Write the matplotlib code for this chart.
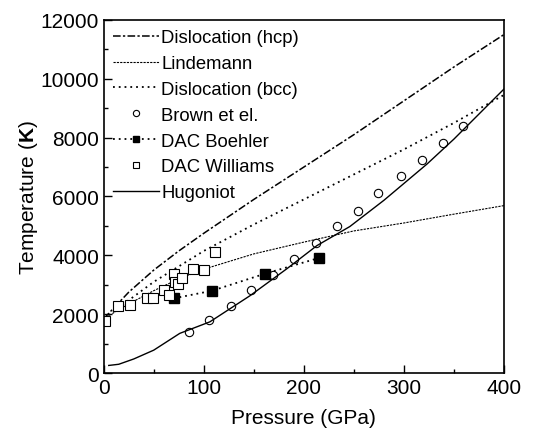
import matplotlib
matplotlib.use('Agg')
import matplotlib.pyplot as plt
from matplotlib.ticker import MultipleLocator

plt.rcParams['font.family'] = ['Liberation Sans', 'DejaVu Sans']
plt.rcParams['mathtext.fontset'] = 'custom'
plt.rcParams['mathtext.rm'] = 'Liberation Sans'
plt.rcParams['mathtext.bf'] = 'Liberation Sans:bold'

# melting curves (Pressure GPa, Temperature K)
hcp_p = [0, 25, 50, 75, 100, 150, 200, 250, 300, 350, 400]
hcp_t = [1850, 2750, 3500, 4150, 4750, 5900, 7000, 8100, 9250, 10400, 11500]

lind_p = [0, 25, 50, 75, 100, 150, 200, 250, 300, 350, 400]
lind_t = [1850, 2350, 2800, 3200, 3530, 4050, 4450, 4830, 5100, 5400, 5690]

bcc_p = [0, 50, 100, 150, 200, 250, 300, 350, 400]
bcc_t = [1850, 3100, 4150, 5050, 5900, 6750, 7600, 8500, 9450]

hug_p = [5, 15, 30, 50, 76, 106, 146, 183, 213, 246, 280, 323, 350, 400]
hug_t = [260, 300, 480, 780, 1350, 1740, 2625, 3545, 4330, 4980, 5870, 7100, 7950, 9650]

# experimental data
brown_p = [85, 105, 127, 147, 169, 190, 212, 233, 254, 274, 297, 318, 339, 359]
brown_t = [1398, 1807, 2284, 2829, 3341, 3886, 4431, 4990, 5522, 6102, 6682, 7227, 7806, 8400]

boehler_p = [70, 108, 161, 215]
boehler_t = [2540, 2795, 3375, 3910]

williams_p = [1, 14, 26, 43, 49, 60, 65, 70, 71, 74, 78, 89, 100, 111]
williams_t = [1773, 2284, 2318, 2557, 2557, 2829, 2650, 3375, 3090, 3034, 3238, 3545, 3511, 4100]

fig = plt.figure(figsize=(5.46, 4.35), dpi=100)
ax = fig.add_axes([0.19, 0.14, 0.733, 0.812])

ax.plot(hcp_p, hcp_t, color='black', lw=1.1, dashes=[5, 1.5, 1.5, 1.5], label='Dislocation (hcp)')
ax.plot(lind_p, lind_t, color='black', lw=0.8, dashes=[2, 1], label='Lindemann')
ax.plot(bcc_p, bcc_t, color='black', lw=1.3, dashes=[1, 2.2], label='Dislocation (bcc)')
ax.plot(brown_p, brown_t, ls='none', marker='o', ms=6, mfc='white', mec='black', mew=0.8,
        label='Brown et el.')
ax.plot(boehler_p, boehler_t, color='black', lw=1.3, dashes=[1, 2.2], marker='s', ms=6.5,
        mfc='black', mec='black', label='DAC Boehler')
ax.plot(williams_p, williams_t, ls='none', marker='s', ms=6.5, mfc='white', mec='black', mew=0.8,
        label='DAC Williams')
ax.plot(hug_p, hug_t, color='black', lw=1.0, label='Hugoniot')

ax.set_xlim(0, 400)
ax.set_ylim(0, 12000)
ax.xaxis.set_major_locator(MultipleLocator(100))
ax.xaxis.set_minor_locator(MultipleLocator(50))
ax.yaxis.set_major_locator(MultipleLocator(2000))
ax.yaxis.set_minor_locator(MultipleLocator(1000))
ax.tick_params(which='both', direction='in', labelsize=15, width=1)
ax.tick_params(which='major', length=6)
ax.tick_params(which='minor', length=3)
for s in ax.spines.values():
    s.set_linewidth(1.2)

ax.set_xlabel('Pressure (GPa)', fontsize=15, labelpad=8)
ax.set_ylabel(r'Temperature ($\mathbf{K}$)', fontsize=15, labelpad=0)

ax.legend(loc='upper left', frameon=False, fontsize=13.3, handlelength=2.5, handletextpad=0.1,
          labelspacing=0.48, borderaxespad=0.4, borderpad=0.1, markerscale=0.75)

fig.savefig('out.png', dpi=100)
